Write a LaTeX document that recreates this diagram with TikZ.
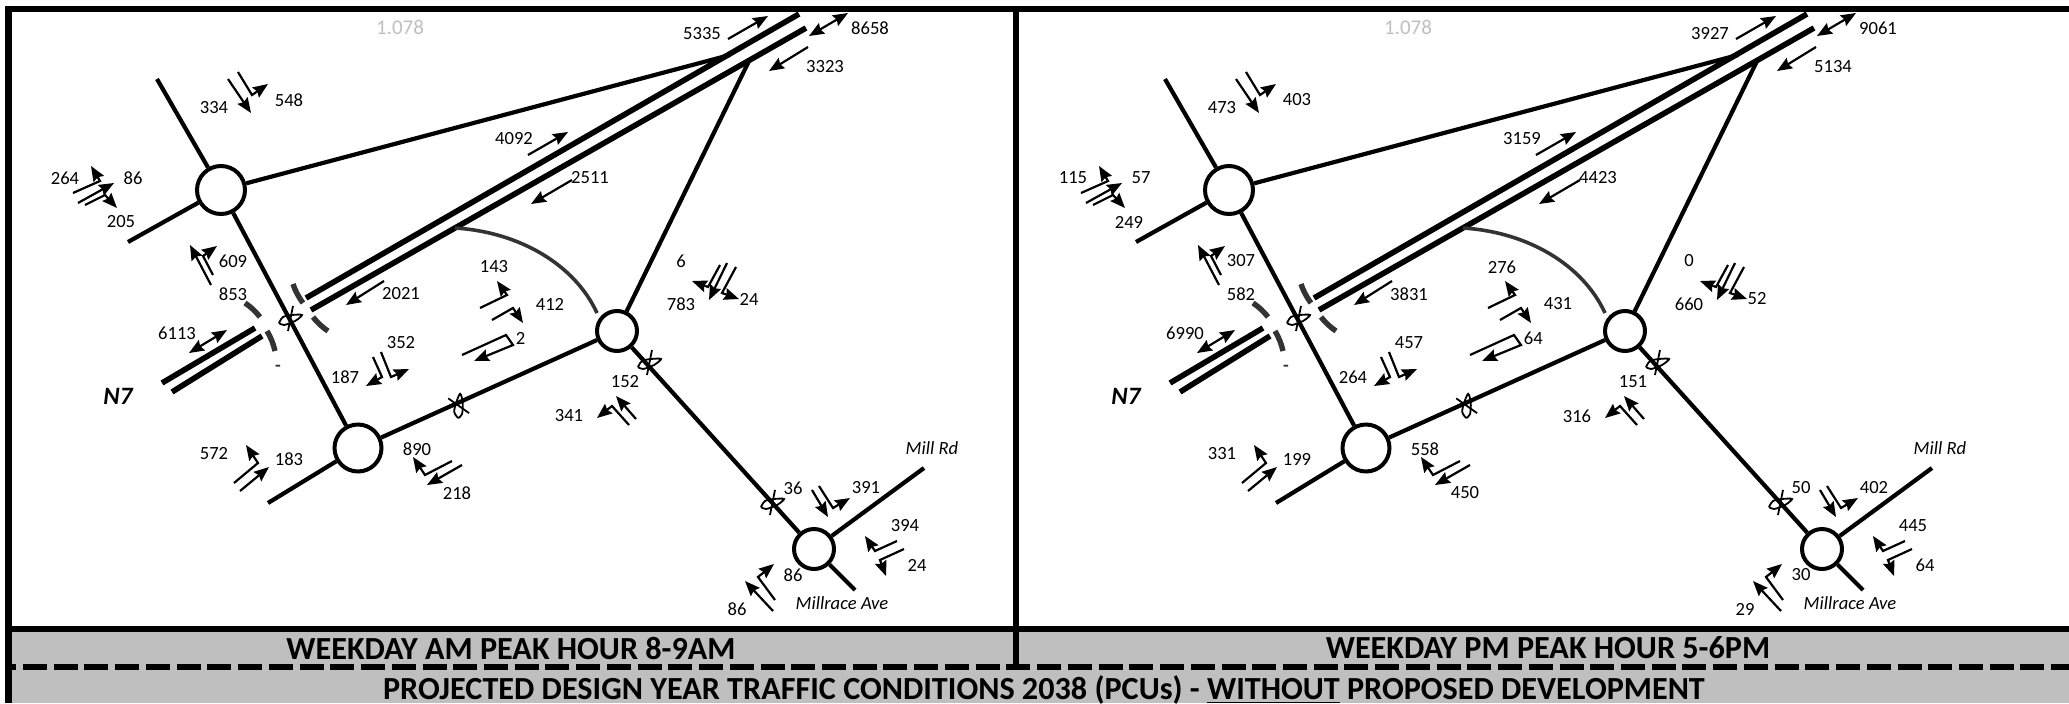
\documentclass[tikz,border=0pt]{standalone}
\usepackage{fontspec}
\setmainfont{Carlito}
\usetikzlibrary{arrows.meta}
\definecolor{bandgrey}{HTML}{BFBFBF}
\definecolor{arcgrey}{HTML}{333333}
\tikzset{
  frameline/.style={line width=3.2pt},
  road/.style={line width=2.1pt},
  carriage/.style={line width=2.8pt},
  slip/.style={line width=1.8pt, arcgrey},
  gapmark/.style={line width=2.7pt, arcgrey},
  flow/.style={line width=1.1pt, ->},
  twoway/.style={line width=1.1pt, <->},
  scribbleline/.style={line width=0.9pt},
  rbt/.style={circle, draw, fill=white, line width=2pt, inner sep=0pt},
  vol/.style={inner sep=0pt, yshift=-0.5pt, font=\fontsize{9.3}{11}\selectfont},
  roadname/.style={inner sep=0pt, font=\fontsize{9.3}{11}\selectfont\itshape},
  heading/.style={inner sep=0pt, font=\fontsize{16.1}{20}\selectfont\bfseries},
}
\newcommand{\scribble}[3]{%
  \draw[scribbleline, shift={(#1,#2)}, rotate=#3] (3,-12) -- (-2,13);
  \draw[scribbleline, shift={(#1,#2)}, rotate=#3] plot[smooth] coordinates {(-11,5) (-7,-1) (2,-3) (12,-3) (5,3) (-6,7) (-11,5)};
}
\begin{document}
\begin{tikzpicture}[x=0.5pt, y=-0.5pt, >={Stealth[length=7.5pt,width=6pt,inset=1pt]}]
  \useasboundingbox (0,0) rectangle (2069,703);
  % bands and frame
  \fill[bandgrey] (8,632) rectangle (2069,703);
  \draw[frameline] (5,9) -- (2069,9);
  \draw[frameline] (8.5,6) -- (8.5,703);
  \draw[frameline] (5,629) -- (2069,629);
  \draw[frameline] (1016,6) -- (1016,664);
  \draw[frameline, dash pattern=on 12pt off 3.365pt, dash phase=6.35pt] (5,667) -- (2069,667);
  \node[heading] (amhead) at (511,648) {WEEKDAY AM PEAK HOUR 8-9AM};
  \node[heading] (pmhead) at (1548,648) {WEEKDAY PM PEAK HOUR 5-6PM};
  \node[heading] (title) at (1044,689.5) {PROJECTED DESIGN YEAR TRAFFIC CONDITIONS 2038 (PCUs) - \underline{WITHOUT} PROPOSED DEVELOPMENT};
  % road network, same in both panels
  \foreach \side/\dx in {am/0, pm/1008} {
    \begin{scope}[shift={(\dx,0)}, name prefix=\side-]
      \node[rbt, minimum size=24pt] (north) at (221,190) {};
      \node[rbt, minimum size=23.5pt] (south) at (358,448) {};
      \node[rbt, minimum size=20pt] (east) at (617,331) {};
      \node[rbt, minimum size=20pt] (mill) at (814,549) {};
      \coordinate (nwend) at (157,79);
      \coordinate (wend) at (128,242);
      \coordinate (swend) at (268,503);
      \coordinate (offramp) at (730,55);
      \coordinate (onramp) at (749,61);
      \coordinate (millend) at (924,468);
      \coordinate (raceend) at (855,590);
      \draw[road] (north) -- (nwend);
      \draw[road] (north) -- (wend);
      \draw[road] (north) -- (offramp);
      \draw[road] (north) -- (south);
      \draw[road] (south) -- (swend);
      \draw[road] (south) -- (east);
      \draw[road] (east) -- (onramp);
      \draw[road] (east) -- (mill);
      \draw[road] (mill) -- (millend);
      \draw[road] (mill) -- (raceend);
      % N7
      \draw[carriage] (799,14) -- (306,298);
      \draw[carriage] (806,28) -- (311,310);
      \draw[carriage] (255,328) -- (162,383);
      \draw[carriage] (262,336) -- (172,392);
      \draw[slip] (455,228) .. controls (520,232) and (575,265) .. (597,313);
      \draw[gapmark] (293,284) to[bend right=8] (303,303);
      \draw[gapmark] (313,317) to[bend right=8] (328,331);
      \draw[gapmark] (245,303) to[bend left=8] (260,317);
      \draw[gapmark] (267,331) to[bend left=8] (275,351);
      \node[vol, arcgrey, font=\fontsize{9.3}{11}\selectfont\bfseries] (dash) at (278,367) {-};
      \node[inner sep=0pt, font=\fontsize{12.5}{15}\selectfont\bfseries\itshape] (nseven) at (118,396) {N7};
      \node[inner sep=0pt, bandgrey, font=\fontsize{10.5}{13}\selectfont] (factor) at (400,27) {1.078};
      \node[roadname] (millrd) at (932,448) {Mill Rd};
      \node[roadname] (millrace) at (842,603) {Millrace Ave};
      % scribbled marks
      \scribble{290}{318}{0}
      \scribble{458}{406}{66}
      \scribble{649}{362}{0}
      \scribble{772}{502}{0}
      % flow arrows
      \draw[flow] (228,79) -- (251,113);
      \draw[flow] (238,72) -- (252,95) -- (268,84);
      \draw[flow] (73,193) -- (100,181) -- (91,166);
      \draw[flow] (78,203) -- (114,183);
      \draw[flow] (85,205) -- (105,195) -- (117,208);
      \draw[flow] (211,285) -- (190,245);
      \draw[flow] (213,275) -- (203,256) -- (217,246);
      \draw[twoway] (189,353) -- (227,330);
      \draw[flow] (384,281) -- (346,305);
      \draw[flow] (480,308) -- (507,295) -- (497,281);
      \draw[flow] (492,320) -- (513,308) -- (523,323);
      \draw[flow] (462,355) -- (506,335) -- (513,345) -- (474,361);
      \draw[flow] (381,352) -- (391,377) -- (409,369);
      \draw[flow] (373,357) -- (382,377) -- (366,386);
      \draw[flow] (234,483) -- (258,463) -- (246,445);
      \draw[flow] (240,491) -- (269,467);
      \draw[flow] (452,461) -- (425,475) -- (413,457);
      \draw[flow] (462,465) -- (427,485);
      \draw[flow] (528,155) -- (568,132);
      \draw[flow] (728,39) -- (768,16);
      \draw[twoway] (809,36) -- (848,13);
      \draw[flow] (808,47) -- (769,71);
      \draw[flow] (572,180) -- (531,204);
      \draw[flow] (720,265) -- (708,287) -- (692,281);
      \draw[flow] (727,263) -- (709,300);
      \draw[flow] (736,267) -- (722,293) -- (739,299);
      \draw[flow] (629,425) -- (612,406) -- (597,418);
      \draw[flow] (636,419) -- (616,396);
      \draw[flow] (812,490) -- (828,517);
      \draw[flow] (819,486) -- (833,508) -- (850,498);
      \draw[flow] (897,541) -- (875,551) -- (865,536);
      \draw[flow] (904,549) -- (880,560) -- (886,576);
      \draw[flow] (775,600) -- (758,577) -- (774,564);
      \draw[flow] (773,611) -- (745,581);
    \end{scope}
  }
  % volumes: am and pm share a position
  \foreach \xv/\yv/\amv/\pmv [count=\i] in {
    214/107/334/473, 289/99/548/403, 65/177/264/115, 133/177/86/57, 121/221/205/249,
    233/260/609/307, 233/293/853/582, 177/332/6113/6990, 494/266/143/276, 401/293/2021/3831,
    401/342/352/457, 514/138/4092/3159, 345/376/187/264, 214/453/572/331, 289/458/183/199,
    417/448/890/558, 457/492/218/450, 702/33/5335/3927, 870/27/8658/9061, 825/66/3323/5134,
    590/177/2511/4423, 681/260/6/0, 681/303/783/660, 749/298/24/52, 550/303/412/431,
    625/381/152/151, 569/415/341/316, 793/487/36/50, 866/487/391/402, 905/525/394/445,
    917/564/24/64, 793/574/86/30, 737/608/86/29} {
    \node[vol] (am\i) at (\xv,\yv) {\amv};
    \node[vol] (pm\i) at (\xv+1008,\yv) {\pmv};
  }
  \node[vol, anchor=west] (amtwo) at (515.5,337) {2};
  \node[vol, anchor=west] (pmtwo) at (1523.5,337) {64};
\end{tikzpicture}
\end{document}
